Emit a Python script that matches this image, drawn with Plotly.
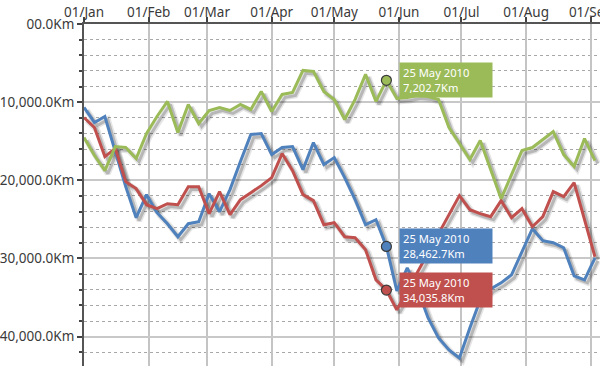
import plotly.graph_objects as go
import pandas as pd

# ---- data (distance in Km, sampled every 5 days from 1 Jan 2010) ----
start_date = "2010-01-01"
n_points = 50
blue_km = [10679, 12602, 11833, 16320, 20807, 24781, 21832, 24140, 25550, 27217,
           25550, 25294, 21704, 24012, 21191, 17602, 14140, 14012, 16704, 15807,
           15679, 18627, 15166, 17986, 17089, 19653, 22473, 25678, 25037, 28462.7,
           34140, 31191, 34011, 37601, 40165, 41703, 42729, 38883, 35293, 33883,
           33114, 32088, 29140, 26191, 27730, 27986, 28627, 32217, 32729, 29909]
red_km = [11961, 13243, 16961, 15935, 20166, 21063, 23114, 23627, 22986, 23114,
          20807, 20807, 24268, 21448, 24396, 22473, 21576, 20679, 19653, 16576,
          18756, 21832, 22602, 25678, 25422, 27217, 27345, 28884, 32729, 34035.8,
          36575, 34140, 31704, 29268, 26960, 24525, 21961, 23755, 24268, 24653,
          22602, 24781, 23627, 25935, 24653, 21448, 22089, 20294, 25037, 29781]
green_km = [14525, 16833, 18756, 15679, 15807, 17217, 14012, 11833, 9910, 13884,
            10294, 12730, 11064, 10679, 11064, 10294, 10935, 8628, 11192, 9012,
            8756, 5936, 6064, 8628, 9653, 12217, 9653, 6448, 9910, 7202.7,
            9525, 9397, 9141, 9269, 9653, 13243, 15294, 17345, 14910, 18627,
            22345, 19268, 16192, 15807, 14781, 13756, 16704, 18243, 14653, 17474]

highlight_index = 29
highlight_label = "25 May 2010"

month_ticks = ["2010-01-01", "2010-02-01", "2010-03-01", "2010-04-01", "2010-05-01",
               "2010-06-01", "2010-07-01", "2010-08-01", "2010-09-01"]
month_labels = ["01/Jan", "01/Feb", "01/Mar", "01/Apr", "01/May",
                "01/Jun", "01/Jul", "01/Aug", "01/Sep"]
y_ticks = [0, 10000, 20000, 30000, 40000]
y_labels = ["00.0Km", "10,000.0Km", "20,000.0Km", "30,000.0Km", "40,000.0Km"]

dates = pd.date_range(start_date, periods=n_points, freq="5D")

series = [
    ("Blue", blue_km, "#4F81BD"),
    ("Red", red_km, "#C0504D"),
    ("Green", green_km, "#9BBB59"),
]

FONT = "Noto Sans"
TEXT = "#3a3a3a"

fig = go.Figure()

# soft drop shadows (same data, nudged down/right by a few pixels)
shadow_dt = pd.Timedelta(hours=34)
shadow_dy = 380
for name, vals, col in series:
    fig.add_trace(go.Scatter(
        x=dates + shadow_dt, y=[v + shadow_dy for v in vals], mode="lines",
        line=dict(color="rgba(0,0,0,0.10)", width=6), hoverinfo="skip", showlegend=False))
    fig.add_trace(go.Scatter(
        x=dates + shadow_dt, y=[v + shadow_dy for v in vals], mode="lines",
        line=dict(color="rgba(0,0,0,0.20)", width=3), hoverinfo="skip", showlegend=False))

for name, vals, col in series:
    fig.add_trace(go.Scatter(
        x=dates, y=vals, mode="lines", name=name,
        line=dict(color=col, width=3), showlegend=False))

for name, vals, col in series:
    fig.add_trace(go.Scatter(
        x=[dates[highlight_index]], y=[vals[highlight_index]], mode="markers",
        marker=dict(size=10, color=col, line=dict(color="#3a3a3a", width=1.2)),
        showlegend=False, hoverinfo="skip"))
    fig.add_annotation(
        x=dates[highlight_index], y=vals[highlight_index], xref="x", yref="y",
        text=f"{highlight_label}<br>{vals[highlight_index]:,.1f}Km",
        showarrow=False, xanchor="left", yanchor="middle", xshift=13,
        align="left", valign="middle", width=86, height=28, borderpad=3,
        bgcolor=col, font=dict(family=FONT, size=11.2, color="white"))

fig.update_layout(
    width=600, height=366,
    margin=dict(l=84, r=0, t=24, b=0),
    plot_bgcolor="white", paper_bgcolor="white",
    font=dict(family=FONT, size=13.5, color=TEXT),
    showlegend=False,
)

fig.update_xaxes(
    side="top", type="date", automargin=False,
    range=["2010-01-01", "2010-09-05 10:00"],
    tickmode="array", tickvals=month_ticks, ticktext=month_labels,
    ticks="outside", ticklen=5, tickwidth=1.5, tickcolor="#444",
    ticklabelstandoff=-5,
    showline=True, linecolor="#555", linewidth=2,
    showgrid=True, gridcolor="#c4c4c4", gridwidth=1.5,
    zeroline=False, ticklabeloverflow="allow",
    tickfont=dict(family=FONT, size=13.5, color=TEXT),
)

fig.update_yaxes(
    range=[43755, 0], automargin=False,
    tickmode="array", tickvals=y_ticks, ticktext=y_labels,
    ticks="outside", ticklen=5, tickwidth=1.5, tickcolor="#444",
    showline=True, linecolor="#555", linewidth=2,
    showgrid=True, gridcolor="#c8c8c8", gridwidth=1.5,
    zeroline=False, ticklabeloverflow="allow",
    tickfont=dict(family=FONT, size=13.5, color=TEXT),
    minor=dict(tickmode="linear", tick0=0, dtick=2000, showgrid=True,
               gridcolor="#a8a8a8", griddash="dot", gridwidth=1,
               ticks="outside", ticklen=3, tickcolor="#444"),
)

fig.write_html(
    "out.html",
    config={"displayModeBar": False},
    post_script="document.body.style.margin='0';document.body.style.overflow='hidden';",
)
